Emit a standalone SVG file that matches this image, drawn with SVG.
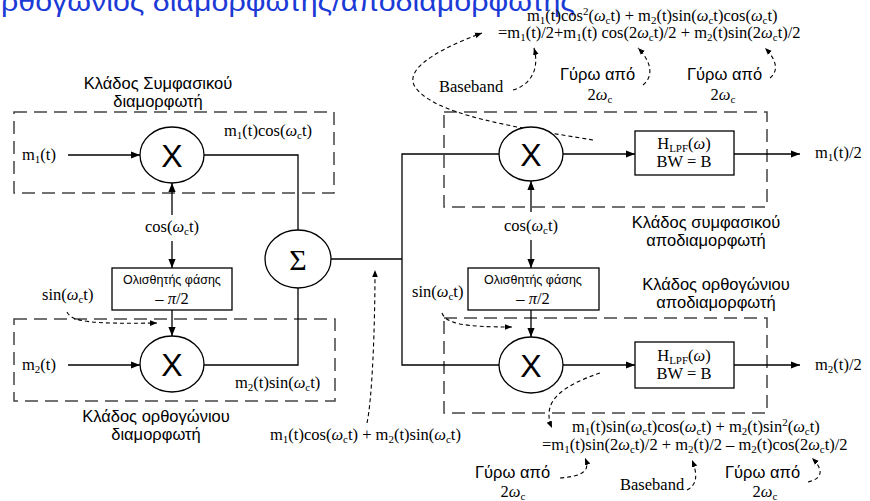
<svg xmlns="http://www.w3.org/2000/svg" width="870" height="501" viewBox="0 0 870 501">
<style>
.t{font-family:"Liberation Serif","Times New Roman",serif;font-size:16.5px;fill:#000}
.s{font-family:"Liberation Sans",Arial,sans-serif;font-size:16.5px;fill:#000}
.sb{font-size:11px;baseline-shift:-3px}
.sp{font-size:11px;baseline-shift:6px}
.w{font-style:italic}
.ln{stroke:#000;stroke-width:1.3;fill:none}
.box{fill:none;stroke:#444;stroke-width:1.5;stroke-dasharray:13 7}
.node{fill:#fff;stroke:#000;stroke-width:1.3}
.dash{stroke:#000;stroke-width:1.1;fill:none;stroke-dasharray:4 3}
.x{font-family:"Liberation Sans",Arial,sans-serif;font-size:32px;text-anchor:middle}
.title{font-family:"Liberation Sans",Arial,sans-serif;font-size:28px;fill:#1c3ad6}
</style>
<defs>
<marker id="ah" viewBox="0 0 10 10" refX="10" refY="5" markerWidth="9" markerHeight="9" markerUnits="userSpaceOnUse" orient="auto"><path d="M0,1 L10,5 L0,9 z" fill="#000"/></marker>
<marker id="ad" viewBox="0 0 10 10" refX="10" refY="5" markerWidth="7" markerHeight="7" markerUnits="userSpaceOnUse" orient="auto"><path d="M0,1 L10,5 L0,9 z" fill="#000"/></marker>
</defs>

<text class="title" x="1" y="11" textLength="574" lengthAdjust="spacingAndGlyphs">ρθογώνιος διαμορφωτής/αποδιαμορφωτής</text>

<g id="boxes">
<rect class="box" x="14" y="112" width="320" height="81"/>
<rect class="box" x="14" y="319" width="321" height="82"/>
<rect class="box" x="444" y="112" width="323" height="95"/>
<rect class="box" x="444" y="318" width="323" height="95"/>
</g>

<g id="connectors">
<path class="ln" d="M68,155 H140" marker-end="url(#ah)"/>
<path class="ln" d="M204,155 H298 V230"/>
<path class="ln" d="M298,288 V365 H204"/>
<path class="ln" d="M68,365 H140" marker-end="url(#ah)"/>
<path class="ln" d="M172,215 V183" marker-end="url(#ah)"/>
<path class="ln" d="M172,241 V268" marker-end="url(#ah)"/>
<path class="ln" d="M172,310 V336" marker-end="url(#ah)"/>
<path class="ln" d="M331,259 H402"/>
<path class="ln" d="M499,154 H402 V365 H499"/>
<path class="ln" d="M563,154 H635" marker-end="url(#ah)"/>
<path class="ln" d="M734,154 H800" marker-end="url(#ah)"/>
<path class="ln" d="M563,365 H635" marker-end="url(#ah)"/>
<path class="ln" d="M734,365 H800" marker-end="url(#ah)"/>
<path class="ln" d="M531,212 V181" marker-end="url(#ah)"/>
<path class="ln" d="M531,240 V268" marker-end="url(#ah)"/>
<path class="ln" d="M531,310 V337" marker-end="url(#ah)"/>
<path class="dash" d="M67,312 C72,322 90,324 157,323" marker-end="url(#ad)"/>
<path class="dash" d="M442,313 C446,324 465,327 512,327" marker-end="url(#ad)"/>
<path class="dash" d="M367,423 C372,400 375,330 375,270" marker-end="url(#ad)"/>
<path class="dash" d="M593,140 C520,128 430,115 414,85 C405,65 450,45 482,33" marker-end="url(#ad)"/>
<path class="dash" d="M513,90 C530,85 540,70 534,48" marker-end="url(#ad)"/>
<path class="dash" d="M643,85 C655,75 650,60 638,48" marker-end="url(#ad)"/>
<path class="dash" d="M770,78 C780,70 775,58 765,48" marker-end="url(#ad)"/>
<path class="dash" d="M600,373 C565,385 540,400 552,428" marker-end="url(#ad)"/>
<path class="dash" d="M560,478 C585,476 590,470 585,458" marker-end="url(#ad)"/>
<path class="dash" d="M687,490 C697,485 698,475 692,460" marker-end="url(#ad)"/>
<path class="dash" d="M808,482 C825,478 822,468 812,458" marker-end="url(#ad)"/>
</g>

<g id="mod-mult1">
<ellipse class="node" cx="172" cy="155" rx="32" ry="28"/>
<text class="x" x="172" y="167">X</text>
</g>
<g id="mod-mult2">
<ellipse class="node" cx="172" cy="364" rx="32" ry="28"/>
<text class="x" x="172" y="376">X</text>
</g>
<g id="mod-shift">
<rect class="node" x="112" y="268" width="120" height="42"/>
<text class="s" x="172" y="284" style="font-size:12.5px" text-anchor="middle">Ολισθητής φάσης</text>
<text class="t" x="172" y="304" text-anchor="middle">– <tspan class="w">π</tspan>/2</text>
</g>
<g id="sum">
<ellipse class="node" cx="298" cy="259" rx="33" ry="29"/>
<text class="t" x="298" y="270" style="font-size:30px" text-anchor="middle">Σ</text>
</g>
<g id="demod-mult1">
<ellipse class="node" cx="531" cy="154" rx="32" ry="27"/>
<text class="x" x="531" y="166">X</text>
</g>
<g id="demod-mult2">
<ellipse class="node" cx="531" cy="365" rx="32" ry="28"/>
<text class="x" x="531" y="377">X</text>
</g>
<g id="demod-shift">
<rect class="node" x="468" y="268" width="131" height="42"/>
<text class="s" x="533" y="284" style="font-size:12.5px" text-anchor="middle">Ολισθητής φάσης</text>
<text class="t" x="533" y="304" text-anchor="middle">– <tspan class="w">π</tspan>/2</text>
</g>
<g id="lpf1">
<rect class="node" x="635" y="131" width="99" height="44"/>
<text class="t" x="684" y="149" text-anchor="middle">H<tspan class="sb">LPF</tspan>(<tspan class="w">ω</tspan>)</text>
<text class="t" x="684" y="167" text-anchor="middle">BW = B</text>
</g>
<g id="lpf2">
<rect class="node" x="635" y="342" width="99" height="46"/>
<text class="t" x="684" y="361" text-anchor="middle">H<tspan class="sb">LPF</tspan>(<tspan class="w">ω</tspan>)</text>
<text class="t" x="684" y="379" text-anchor="middle">BW = B</text>
</g>

<g id="labels">
<text class="s" x="158" y="89" text-anchor="middle">Κλάδος Συμφασικού</text>
<text class="s" x="158" y="107" text-anchor="middle">διαμορφωτή</text>
<text class="s" x="156" y="422" text-anchor="middle">Κλάδος ορθογώνιου</text>
<text class="s" x="156" y="440" text-anchor="middle">διαμορφωτή</text>
<text class="s" x="706" y="228" text-anchor="middle">Κλάδος συμφασικού</text>
<text class="s" x="706" y="246" text-anchor="middle">αποδιαμορφωτή</text>
<text class="s" x="716" y="290" text-anchor="middle">Κλάδος ορθογώνιου</text>
<text class="s" x="716" y="308" text-anchor="middle">αποδιαμορφωτή</text>

<text class="t" x="22" y="160">m<tspan class="sb">1</tspan>(t)</text>
<text class="t" x="22" y="370">m<tspan class="sb">2</tspan>(t)</text>
<text class="t" x="224" y="136">m<tspan class="sb">1</tspan>(t)cos(<tspan class="w">ω</tspan><tspan class="sb">c</tspan>t)</text>
<text class="t" x="235" y="388">m<tspan class="sb">2</tspan>(t)sin(<tspan class="w">ω</tspan><tspan class="sb">c</tspan>t)</text>
<text class="t" x="172" y="232" text-anchor="middle">cos(<tspan class="w">ω</tspan><tspan class="sb">c</tspan>t)</text>
<text class="t" x="531" y="231" text-anchor="middle">cos(<tspan class="w">ω</tspan><tspan class="sb">c</tspan>t)</text>
<text class="t" x="42" y="300">sin(<tspan class="w">ω</tspan><tspan class="sb">c</tspan>t)</text>
<text class="t" x="412" y="297">sin(<tspan class="w">ω</tspan><tspan class="sb">c</tspan>t)</text>
<text class="t" x="270" y="440">m<tspan class="sb">1</tspan>(t)cos(<tspan class="w">ω</tspan><tspan class="sb">c</tspan>t) + m<tspan class="sb">2</tspan>(t)sin(<tspan class="w">ω</tspan><tspan class="sb">c</tspan>t)</text>
<text class="t" x="815" y="158">m<tspan class="sb">1</tspan>(t)/2</text>
<text class="t" x="815" y="370">m<tspan class="sb">2</tspan>(t)/2</text>

<text class="t" x="527" y="21">m<tspan class="sb">1</tspan>(t)cos<tspan class="sp">2</tspan>(<tspan class="w">ω</tspan><tspan class="sb">c</tspan>t) + m<tspan class="sb">2</tspan>(t)sin(<tspan class="w">ω</tspan><tspan class="sb">c</tspan>t)cos(<tspan class="w">ω</tspan><tspan class="sb">c</tspan>t)</text>
<text class="t" x="498" y="38">=m<tspan class="sb">1</tspan>(t)/2+m<tspan class="sb">1</tspan>(t) cos(2<tspan class="w">ω</tspan><tspan class="sb">c</tspan>t)/2 + m<tspan class="sb">2</tspan>(t)sin(2<tspan class="w">ω</tspan><tspan class="sb">c</tspan>t)/2</text>
<text class="t" x="439" y="92">Baseband</text>
<text class="s" x="560" y="80">Γύρω από</text>
<text class="t" x="600" y="100" text-anchor="middle">2<tspan class="w">ω</tspan><tspan class="sb">c</tspan></text>
<text class="s" x="687" y="80">Γύρω από</text>
<text class="t" x="723" y="100" text-anchor="middle">2<tspan class="w">ω</tspan><tspan class="sb">c</tspan></text>

<text class="t" x="572" y="432">m<tspan class="sb">1</tspan>(t)sin(<tspan class="w">ω</tspan><tspan class="sb">c</tspan>t)cos(<tspan class="w">ω</tspan><tspan class="sb">c</tspan>t) + m<tspan class="sb">2</tspan>(t)sin<tspan class="sp">2</tspan>(<tspan class="w">ω</tspan><tspan class="sb">c</tspan>t)</text>
<text class="t" x="542" y="450">=m<tspan class="sb">1</tspan>(t)sin(2<tspan class="w">ω</tspan><tspan class="sb">c</tspan>t)/2 + m<tspan class="sb">2</tspan>(t)/2 – m<tspan class="sb">2</tspan>(t)cos(2<tspan class="w">ω</tspan><tspan class="sb">c</tspan>t)/2</text>
<text class="s" x="475" y="478">Γύρω από</text>
<text class="t" x="513" y="497" text-anchor="middle">2<tspan class="w">ω</tspan><tspan class="sb">c</tspan></text>
<text class="t" x="620" y="490">Baseband</text>
<text class="s" x="725" y="478">Γύρω από</text>
<text class="t" x="765" y="497" text-anchor="middle">2<tspan class="w">ω</tspan><tspan class="sb">c</tspan></text>
</g>
</svg>
